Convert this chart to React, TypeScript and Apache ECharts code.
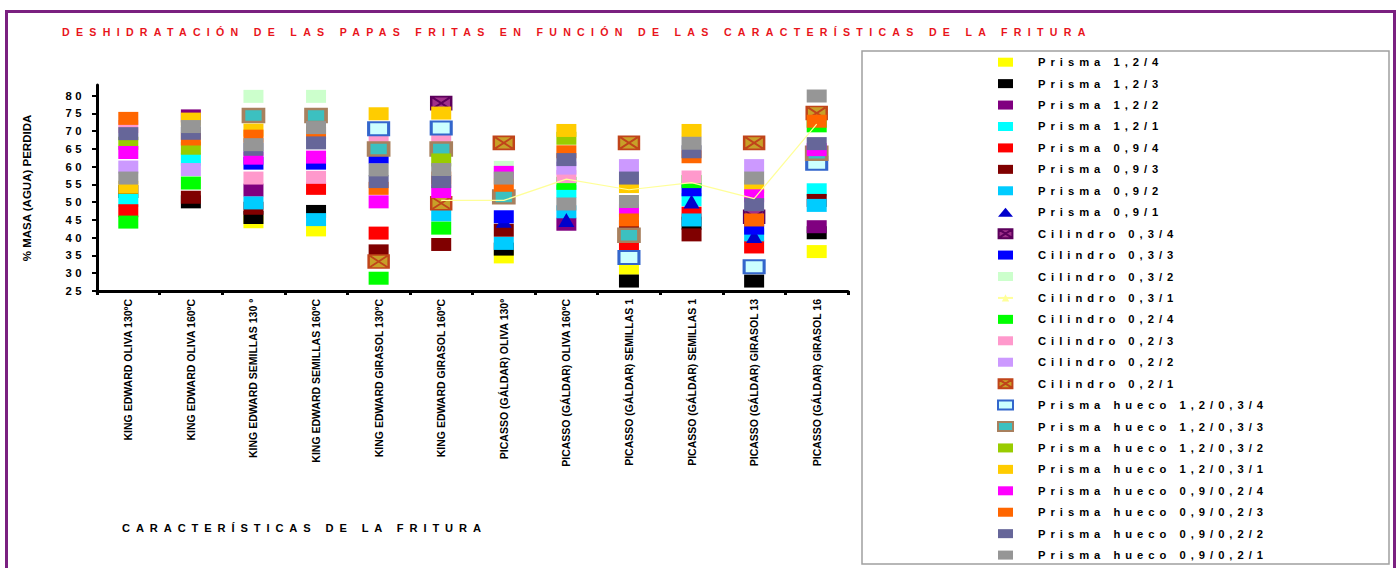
import React, { useEffect, useRef } from "react";
import * as echarts from "echarts";

// Categories (frying conditions) on the x axis
const categories = [
  "KING EDWARD OLIVA 130ºC",
  "KING EDWARD OLIVA 160ºC",
  "KING EDWARD SEMILLAS 130 º",
  "KING EDWARD SEMILLAS 160ºC",
  "KING EDWARD GIRASOL 130ºC",
  "KING EDWARD GIRASOL 160ºC",
  "PICASSO (GÁLDAR) OLIVA 130º",
  "PICASSO (GÁLDAR) OLIVA 160ºC",
  "PICASSO (GÁLDAR) SEMILLAS 1",
  "PICASSO (GÁLDAR) SEMILLAS 1",
  "PICASSO (GÁLDAR) GIRASOL 13",
  "PICASSO (GÁLDAR) GIRASOL 16",
];

const yTicks = [25, 30, 35, 40, 45, 50, 55, 60, 65, 70, 75, 80];

// % mass (water) lost, one value per category (null = not measured)
const prisma12_4 = [null, null, 44.5, 42.2, null, null, 34.6, null, 31.4, null, null, 36.1];
const prisma12_3 = [53.0, 50.1, 45.7, 47.4, null, null, 36.8, null, 27.8, 44.1, 27.8, 41.4];
const prisma12_2 = [null, 74.3, 53.4, null, null, null, null, 43.8, null, null, null, 43.1];
const prisma12_1 = [50.5, 62.1, null, null, null, null, null, 53.0, null, 50.7, null, 53.5];
const prisma09_4 = [47.6, null, null, 53.9, 41.3, null, null, null, 37.9, 46.9, 37.4, null];
const prisma09_3 = [null, 51.4, 48.3, null, 36.3, 38.1, 42.1, null, 43.1, 40.8, null, 50.5];
const prisma09_2 = [null, null, 49.8, 45.1, null, 46.4, 38.4, 47.3, null, 45.0, 40.8, 49.1];
const prisma09_1 = [null, null, null, null, null, null, 44.8, 45.0, null, 50.2, 40.5, null];
const cilindro03_4 = [null, null, null, null, null, 77.9, null, null, null, null, 45.9, null];
const cilindro03_3 = [null, null, 61.0, 61.0, 62.7, null, 45.9, null, null, 53.5, 42.7, null];
const cilindro03_2 = [null, null, 79.8, 79.8, null, null, 59.8, null, null, null, null, null];
const cilindro03_1 = [null, null, null, null, null, 50.5, 50.5, 56.5, 53.5, 55.5, 51.0, 72.0];
const cilindro02_4 = [44.4, 55.4, null, null, 28.6, 42.7, null, 55.3, null, 55.8, null, 71.5];
const cilindro02_3 = [71.3, null, 56.8, 57.0, 68.1, 67.8, null, 57.2, null, 57.1, null, null];
const cilindro02_2 = [59.9, 59.2, null, null, null, null, null, 59.6, 60.3, null, 60.3, null];
const cilindro02_1 = [null, null, null, null, 33.3, 49.7, 66.7, null, 66.7, null, 66.7, 75.1];
const hueco12_4 = [null, null, null, null, 70.7, 70.9, null, null, 34.4, null, 31.8, 61.0];
const hueco12_3 = [null, null, 74.4, 74.4, 65.0, 65.0, 51.5, null, 40.7, null, null, 63.8];
const hueco12_2 = [66.6, 65.2, null, null, null, 61.9, null, 68.0, null, null, null, null];
const hueco12_1 = [54.2, 73.4, 70.3, null, 74.9, 75.1, null, 70.2, 54.4, 70.2, 54.4, null];
const hueco09_4 = [64.0, null, 62.4, 62.7, 50.1, 53.0, 58.4, null, 47.6, null, 51.8, 64.8];
const hueco09_3 = [73.6, 67.8, 68.6, 69.5, 53.9, 56.8, 54.8, 64.2, 45.0, 62.8, 45.0, 72.8];
const hueco09_2 = [69.3, 69.4, 64.9, 66.7, 55.8, 55.8, null, 62.0, 56.8, 64.2, 49.3, 66.5];
const hueco09_1 = [56.8, 71.3, 66.2, 71.0, 59.1, 59.2, 56.8, 49.5, 50.2, 66.6, 56.8, 79.9];

const seriesNames = [
  "Prisma 1,2/4",
  "Prisma 1,2/3",
  "Prisma 1,2/2",
  "Prisma 1,2/1",
  "Prisma 0,9/4",
  "Prisma 0,9/3",
  "Prisma 0,9/2",
  "Prisma 0,9/1",
  "Cilindro 0,3/4",
  "Cilindro 0,3/3",
  "Cilindro 0,3/2",
  "Cilindro 0,3/1",
  "Cilindro 0,2/4",
  "Cilindro 0,2/3",
  "Cilindro 0,2/2",
  "Cilindro 0,2/1",
  "Prisma hueco 1,2/0,3/4",
  "Prisma hueco 1,2/0,3/3",
  "Prisma hueco 1,2/0,3/2",
  "Prisma hueco 1,2/0,3/1",
  "Prisma hueco 0,9/0,2/4",
  "Prisma hueco 0,9/0,2/3",
  "Prisma hueco 0,9/0,2/2",
  "Prisma hueco 0,9/0,2/1",
];

const seriesValues = [
  prisma12_4, prisma12_3, prisma12_2, prisma12_1,
  prisma09_4, prisma09_3, prisma09_2, prisma09_1,
  cilindro03_4, cilindro03_3, cilindro03_2, cilindro03_1,
  cilindro02_4, cilindro02_3, cilindro02_2, cilindro02_1,
  hueco12_4, hueco12_3, hueco12_2, hueco12_1,
  hueco09_4, hueco09_3, hueco09_2, hueco09_1,
];

// Square with a cross through it
const crossBox = "path://M0,0H20V13H0Z M1.5,1L18.5,12 M18.5,1L1.5,12";

type MarkStyle = {
  kind?: "line";
  symbol?: string;
  size?: number | number[];
  color: string;
  border?: string;
  borderWidth?: number;
};

const markStyles: MarkStyle[] = [
  { color: "#FFFF00" },
  { color: "#000000" },
  { color: "#800080" },
  { color: "#00FFFF" },
  { color: "#FF0000" },
  { color: "#800000" },
  { color: "#00CCFF" },
  { symbol: "triangle", size: [16, 14], color: "#0000CC" },
  { symbol: crossBox, color: "#A0308A", border: "#5C005C", borderWidth: 2 },
  { color: "#0000FF" },
  { color: "#CCFFCC" },
  { kind: "line", symbol: "triangle", size: 7, color: "#FFFF99" },
  { color: "#00FF00" },
  { color: "#FF99CC" },
  { color: "#CC99FF" },
  { symbol: crossBox, color: "#C8A028", border: "#C0441A", borderWidth: 2 },
  { color: "#CCFFFF", border: "#3366CC", borderWidth: 2.5 },
  { color: "#3CC0C0", border: "#A8805E", borderWidth: 3 },
  { color: "#99CC00" },
  { color: "#FFCC00" },
  { color: "#FF00FF" },
  { color: "#FF6600" },
  { color: "#666699" },
  { color: "#969696" },
];

const FONT = "Liberation Sans";

function buildSeries() {
  return seriesNames.map((name, i) => {
    const st = markStyles[i];
    const values = seriesValues[i].map((v) => (v === null ? "-" : v));
    if (st.kind === "line") {
      return {
        name,
        type: "line",
        data: values,
        symbol: st.symbol,
        symbolSize: st.size,
        showSymbol: false,
        connectNulls: false,
        lineStyle: { color: st.color, width: 1.2 },
        itemStyle: { color: st.color },
      };
    }
    return {
      name,
      type: "scatter",
      data: values,
      symbol: st.symbol ?? "rect",
      symbolSize: st.size ?? [20, 13],
      itemStyle: {
        color: st.color,
        opacity: 1,
        borderColor: st.border ?? st.color,
        borderWidth: st.borderWidth ?? 0,
      },
    };
  });
}

export default function App() {
  const ref = useRef<HTMLDivElement>(null);

  useEffect(() => {
    if (!ref.current) return;
    const chart = echarts.init(ref.current, undefined, { renderer: "svg" });
    chart.setOption({
      animation: false,
      backgroundColor: "#FFFFFF",
      textStyle: { fontFamily: FONT },
      title: [
        {
          text: "DESHIDRATACIÓN DE LAS PAPAS FRITAS EN FUNCIÓN DE LAS CARACTERÍSTICAS DE LA FRITURA",
          left: 62,
          top: 26,
          padding: 0,
          textStyle: { color: "#E8141B", fontSize: 10.6, fontWeight: "bold", fontFamily: FONT },
        },
        {
          text: "CARACTERÍSTICAS DE LA FRITURA",
          left: 122,
          top: 522,
          padding: 0,
          textStyle: { color: "#000000", fontSize: 11.1, fontWeight: "bold", fontFamily: FONT },
        },
      ],
      graphic: [
        {
          type: "rect",
          shape: { x: 6.5, y: 11.5, width: 1388, height: 620 },
          style: { fill: "none", stroke: "#7A2080", lineWidth: 3 },
          silent: true,
          z: -1,
        },
        {
          type: "rect",
          shape: { x: 862, y: 51, width: 527, height: 513 },
          style: { fill: "#FFFFFF", stroke: "#A0A0A0", lineWidth: 1.5 },
          silent: true,
          z: -1,
        },
      ],
      legend: {
        orient: "vertical",
        left: 997,
        top: 56.7,
        padding: 0,
        itemWidth: 15,
        itemHeight: 9,
        itemGap: 10.43,
        selectedMode: false,
        data: seriesNames,
        textStyle: {
          fontSize: 11.2,
          fontWeight: "bold",
          color: "#000000",
          fontFamily: FONT,
          padding: [0, 0, 0, 20],
        },
      },
      grid: { left: 97, right: 550, top: 85, bottom: 277, containLabel: false },
      xAxis: {
        type: "category",
        data: categories,
        boundaryGap: true,
        axisLine: { show: true, lineStyle: { color: "#000000", width: 3 } },
        axisTick: { show: true, length: 4, lineStyle: { color: "#000000", width: 3 } },
        axisLabel: {
          interval: 0,
          rotate: 90,
          margin: 8,
          color: "#000000",
          fontSize: 10.5,
          fontWeight: "bold",
          fontFamily: FONT,
        },
        splitLine: { show: false },
      },
      yAxis: {
        type: "value",
        min: 25,
        max: 83,
        interval: 5,
        name: "% MASA (AGUA) PERDIDA",
        nameLocation: "middle",
        nameGap: 64,
        nameRotate: 90,
        nameTextStyle: { color: "#000000", fontSize: 11.5, fontWeight: "bold", fontFamily: FONT },
        axisLine: { show: true, lineStyle: { color: "#000000", width: 3 } },
        axisTick: {
          show: true,
          length: 5,
          customValues: yTicks,
          lineStyle: { color: "#000000", width: 2 },
        },
        axisLabel: {
          customValues: yTicks,
          margin: 12,
          color: "#000000",
          fontSize: 11.3,
          fontWeight: "bold",
          fontFamily: FONT,
        },
        splitLine: { show: false },
      },
      series: buildSeries(),
    });
    return () => chart.dispose();
  }, []);

  return (
    <div
      style={{
        position: "fixed",
        left: 0,
        top: 0,
        width: 1398,
        height: 568,
        background: "#FFFFFF",
      }}
    >
      <style>{`
        .frit-chart text[style*="10.6px"] { letter-spacing: 6.3px; }
        .frit-chart text[style*="11.1px"] { letter-spacing: 5.9px; }
        .frit-chart text[style*="11.2px"] { letter-spacing: 5px; }
        .frit-chart text[style*="11.3px"] { letter-spacing: 3.5px; }
      `}</style>
      <div className="frit-chart" ref={ref} style={{ width: 1398, height: 568 }} />
    </div>
  );
}
